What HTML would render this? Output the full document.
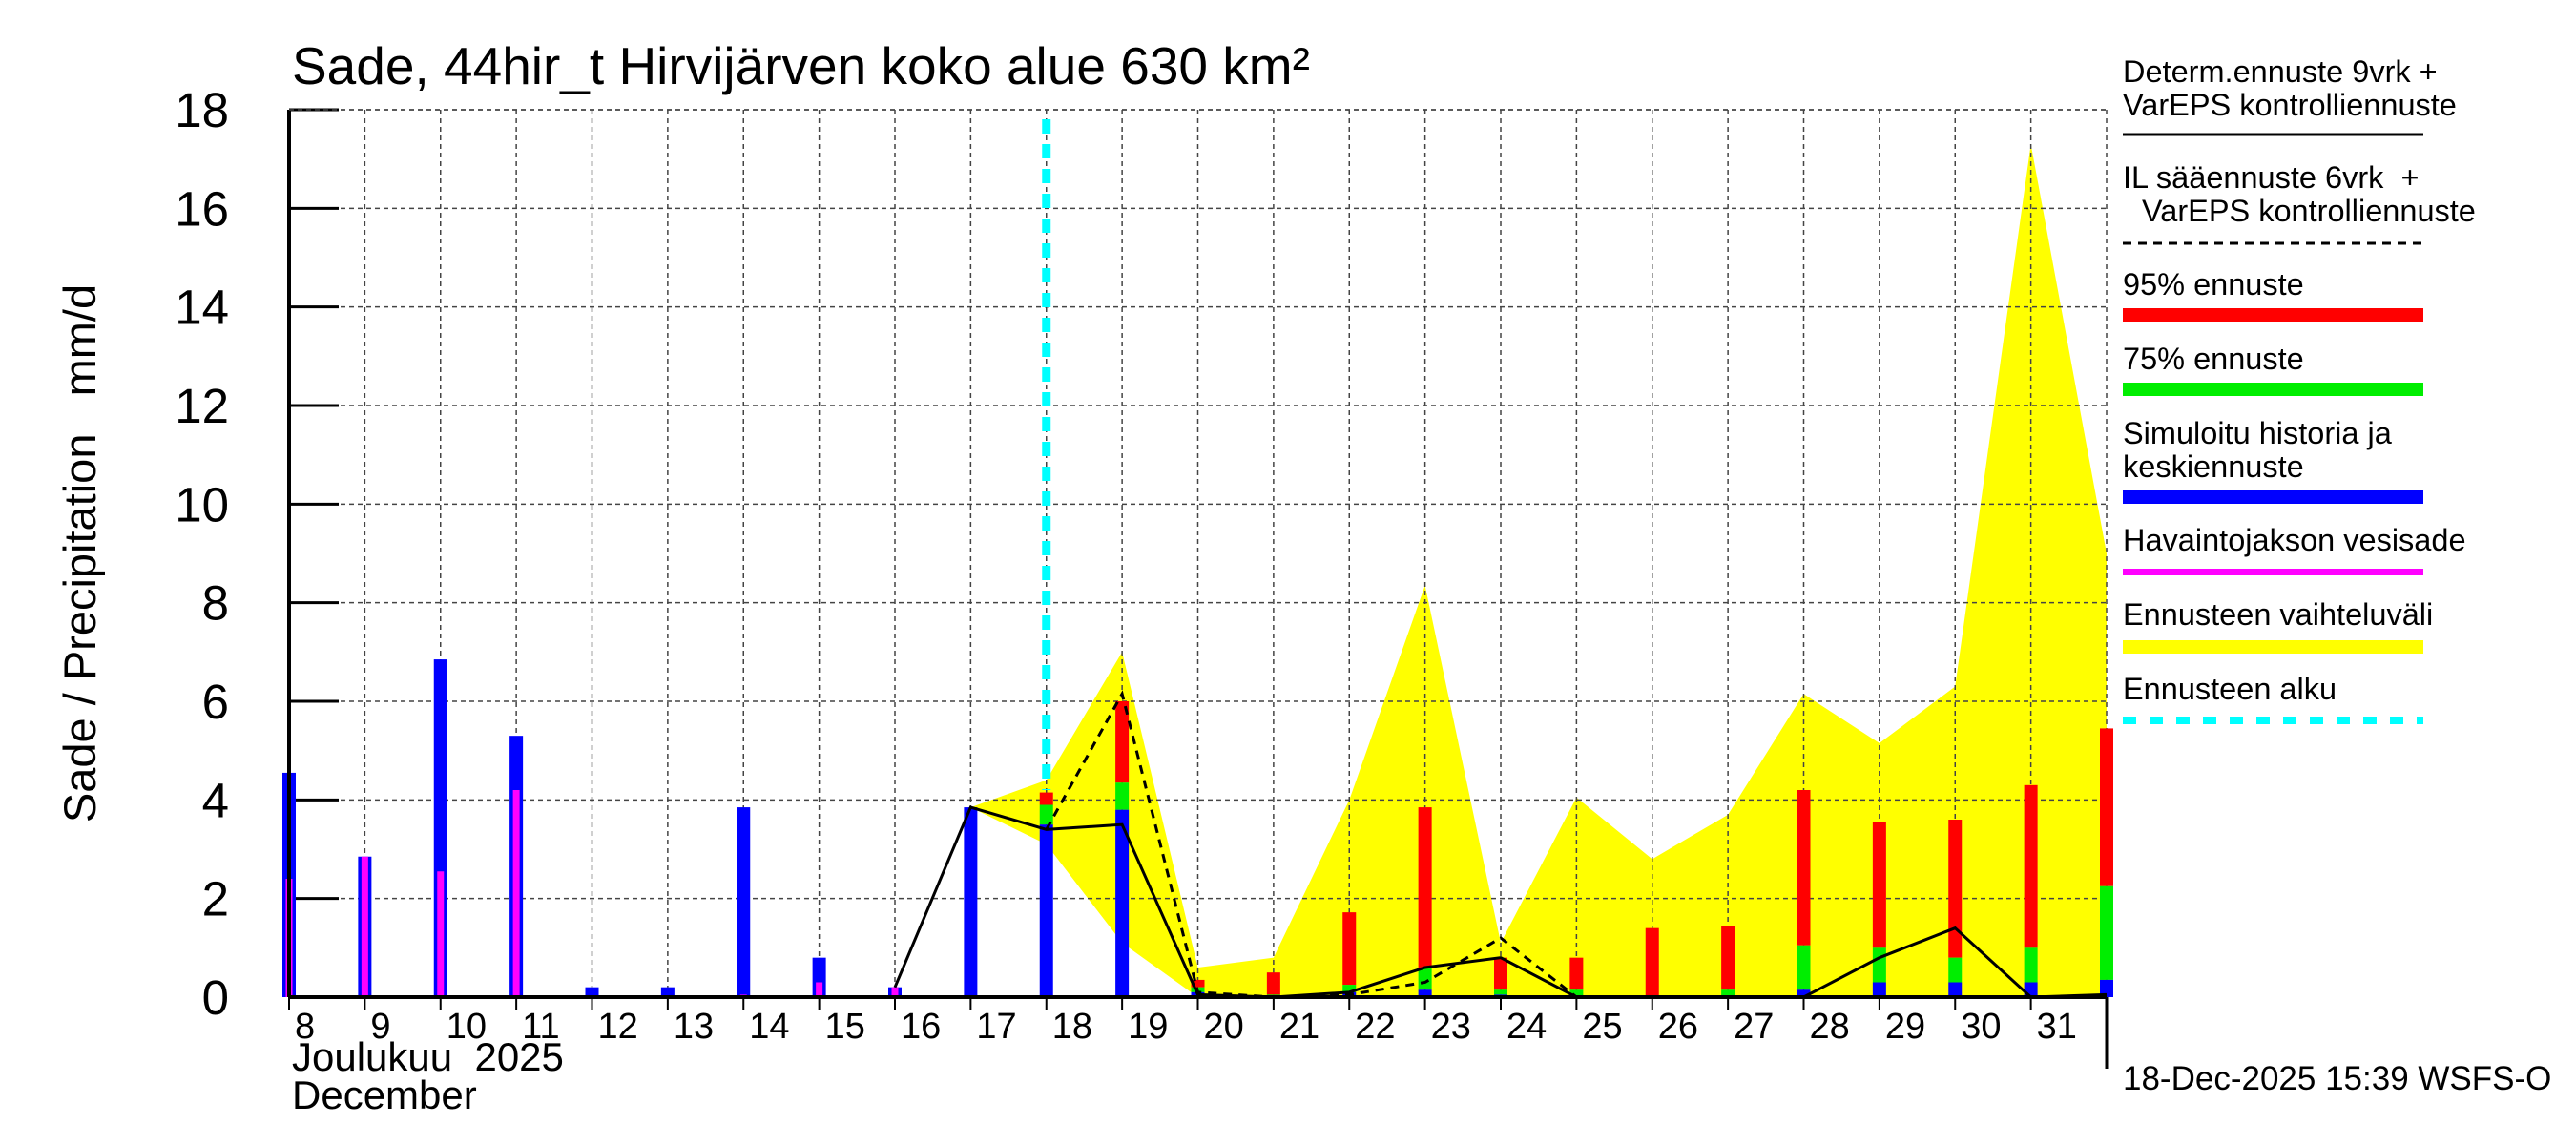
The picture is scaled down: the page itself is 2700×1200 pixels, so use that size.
<!DOCTYPE html>
<html><head><meta charset="utf-8"><style>
html,body{margin:0;padding:0;background:#fff;}
svg{display:block;font-family:"Liberation Sans",sans-serif;}
</style></head><body>
<svg id="chart" width="2700" height="1200" viewBox="0 0 2700 1200" xmlns="http://www.w3.org/2000/svg">
<text x="306" y="88" font-size="55">Sade, 44hir_t Hirvijärven koko alue 630 km²</text>
<text transform="translate(100,580) rotate(-90)" text-anchor="middle" font-size="47" style="white-space:pre">Sade / Precipitation   mm/d</text>
<g id="plot"></g>
<text x="306" y="1122" font-size="42" style="white-space:pre">Joulukuu  2025</text>
<text x="306" y="1162" font-size="42">December</text>
<text x="2225" y="1142" font-size="35">18-Dec-2025 15:39 WSFS-O</text>
<g font-size="32.5">
<text x="2225" y="86">Determ.ennuste 9vrk +</text>
<text x="2225" y="121">VarEPS kontrolliennuste</text>
<line x1="2225" y1="141" x2="2540" y2="141" stroke="#000" stroke-width="3"/>
<text x="2225" y="197" style="white-space:pre">IL sääennuste 6vrk  +</text>
<text x="2245" y="232">VarEPS kontrolliennuste</text>
<line x1="2225" y1="255" x2="2540" y2="255" stroke="#000" stroke-width="3" stroke-dasharray="9,7"/>
<text x="2225" y="309">95% ennuste</text>
<rect x="2225" y="323" width="315" height="14" fill="#ff0000"/>
<text x="2225" y="387">75% ennuste</text>
<rect x="2225" y="401" width="315" height="14" fill="#00ee00"/>
<text x="2225" y="465">Simuloitu historia ja</text>
<text x="2225" y="500">keskiennuste</text>
<rect x="2225" y="514" width="315" height="14" fill="#0000ff"/>
<text x="2225" y="577">Havaintojakson vesisade</text>
<rect x="2225" y="596" width="315" height="7" fill="#ff00ff"/>
<text x="2225" y="655">Ennusteen vaihteluväli</text>
<rect x="2225" y="671" width="315" height="14" fill="#ffff00"/>
<text x="2225" y="733">Ennusteen alku</text>
<line x1="2225" y1="755" x2="2540" y2="755" stroke="#00ffff" stroke-width="8" stroke-dasharray="14,14"/>
</g>
</svg>
<script>
const days = [8,9,10,11,12,13,14,15,16,17,18,19,20,21,22,23,24,25,26,27,28,29,30,31,32];
const blueVals = [4.55,2.85,6.85,5.3,0.2,0.2,3.85,0.8,0.2,3.85,3.5,3.8,0.1,0,0.1,0.15,0.05,0.02,0,0,0.15,0.3,0.3,0.3,0.35];
const magentaVals = [2.4,2.85,2.55,4.2,0,0,0.05,0.3,0.2,0,0,0,0,0,0,0,0,0,0,0,0,0,0,0,0];
const greenVals = [0,0,0,0,0,0,0,0,0,0,3.9,4.35,0.2,0.05,0.25,0.6,0.15,0.15,0.02,0.15,1.05,1.0,0.8,1.0,2.25];
const redVals = [0,0,0,0,0,0,0,0,0,0,4.15,6.0,0.35,0.5,1.72,3.85,0.8,0.8,1.4,1.45,4.2,3.55,3.6,4.3,5.45];
const rangeDays = [17,18,19,20,21,22,23,24,25,26,27,28,29,30,31,32];
const rangeHigh = [3.85,4.4,7.0,0.6,0.8,4.0,8.35,1.1,4.05,2.8,3.7,6.15,5.15,6.3,17.3,9.0];
const rangeLow = [3.85,3.1,1.1,0,0,0,0,0,0,0,0,0,0,0,0,0];
const detDays = [16,17,18,19,20,21,22,23,24,25,26,27,28,29,30,31,32];
const detVals = [0.2,3.85,3.4,3.5,0.05,0,0.1,0.6,0.8,0,0,0,0,0.8,1.4,0,0.05];
const ilDays = [18,19,20,21,22,23,24,25];
const ilVals = [3.4,6.15,0.1,0,0.05,0.3,1.2,0];
const yTicks = [0,2,4,6,8,10,12,14,16,18];
const dayLabels = ["8","9","10","11","12","13","14","15","16","17","18","19","20","21","22","23","24","25","26","27","28","29","30","31"];
const forecastStart = 18;

const X0=303, X1=2208, Y0=1045, YT=115;
const xs = d => X0 + (d-8)*(X1-X0)/24;
const ys = v => Y0 - v*(Y0-YT)/18;
const NS="http://www.w3.org/2000/svg";
const plotG=document.getElementById('plot');
function mk(tag,attrs){const e=document.createElementNS(NS,tag);for(const k in attrs)e.setAttribute(k,attrs[k]);plotG.appendChild(e);return e;}

let pts=rangeDays.map((d,i)=>xs(d)+','+ys(rangeHigh[i]));
for(let i=rangeDays.length-1;i>=0;i--)pts.push(xs(rangeDays[i])+','+ys(rangeLow[i]));
let band=mk('polygon',{points:pts.join(' '),fill:'#ffff00'});



yTicks.forEach(v=>{
  if(v>0){let l=mk('line',{x1:X0,y1:ys(v),x2:X1,y2:ys(v),stroke:'#444','stroke-width':1.5,'stroke-dasharray':'5,4'});
  
  }
  let t=mk('line',{x1:X0,y1:ys(v),x2:X0+52,y2:ys(v),stroke:'#000','stroke-width':3});
  
  
  let tx=mk('text',{x:240,y:ys(v)+18,'text-anchor':'end','font-size':51});
  tx.textContent=v;
  
  
});
for(let d=9;d<=32;d++){
  let l=mk('line',{x1:xs(d),y1:YT,x2:xs(d),y2:Y0,stroke:'#444','stroke-width':1.5,'stroke-dasharray':'5,4'});
  
  
}
dayLabels.forEach((s,i)=>{
  const d=8+i;
  let t=mk('line',{x1:xs(d),y1:Y0,x2:xs(d),y2:Y0+14,stroke:'#000','stroke-width':2});
  
  
  let tx=mk('text',{x:xs(d)+6,y:Y0+43,'font-size':38});
  tx.textContent=s;
  
  
});

const BW=14, MW=7;
days.forEach((d,i)=>{
  const x=xs(d)-BW/2;
  if(redVals[i]>greenVals[i]){let r=mk('rect',{x:x,y:ys(redVals[i]),width:BW,height:ys(greenVals[i])-ys(redVals[i]),fill:'#ff0000'});
    
    }
  if(greenVals[i]>blueVals[i]){let r=mk('rect',{x:x,y:ys(greenVals[i]),width:BW,height:ys(blueVals[i])-ys(greenVals[i]),fill:'#00ee00'});
    
    }
  if(blueVals[i]>0){let r=mk('rect',{x:x,y:ys(blueVals[i]),width:BW,height:Y0-ys(blueVals[i]),fill:'#0000ff'});
    
    }
  if(magentaVals[i]>0){let r=mk('rect',{x:xs(d)-MW/2,y:ys(magentaVals[i]),width:MW,height:Y0-ys(magentaVals[i]),fill:'#ff00ff'});
    
    }
});

let fs=mk('line',{x1:xs(forecastStart),y1:125,x2:xs(forecastStart),y2:ys(4.2),stroke:'#00ffff','stroke-width':9,'stroke-dasharray':'15,11'});



let det=mk('polyline',{points:detDays.map((d,i)=>xs(d)+','+ys(detVals[i])).join(' '),fill:'none',stroke:'#000','stroke-width':3});


let il=mk('polyline',{points:ilDays.map((d,i)=>xs(d)+','+ys(ilVals[i])).join(' '),fill:'none',stroke:'#000','stroke-width':3,'stroke-dasharray':'9,7'});



let ax=mk('line',{x1:X0,y1:YT,x2:X0,y2:Y0,stroke:'#000','stroke-width':4});


let topBorder=mk('line',{x1:X0,y1:YT,x2:X1,y2:YT,stroke:'#444','stroke-width':1.5,'stroke-dasharray':'5,4'});


let bx=mk('line',{x1:X0,y1:Y0,x2:X1,y2:Y0,stroke:'#000','stroke-width':4});


let rt=mk('line',{x1:X1,y1:Y0,x2:X1,y2:1120,stroke:'#000','stroke-width':3});


</script>
</body></html>
